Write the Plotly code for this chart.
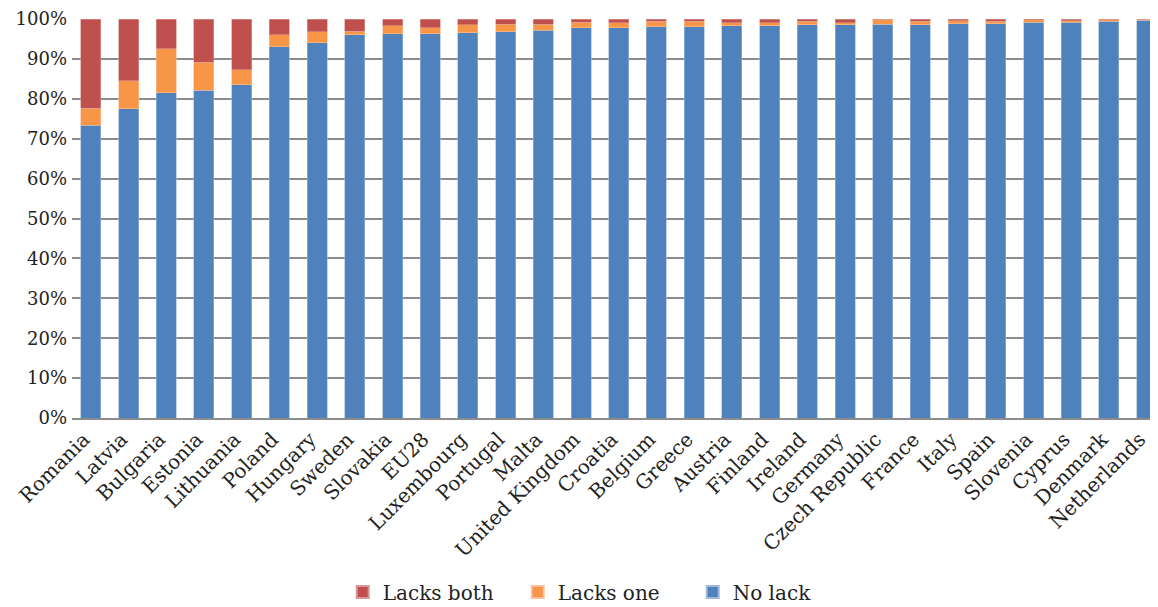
import plotly.graph_objects as go

countries = ["Romania", "Latvia", "Bulgaria", "Estonia", "Lithuania", "Poland", "Hungary",
             "Sweden", "Slovakia", "EU28", "Luxembourg", "Portugal", "Malta", "United Kingdom",
             "Croatia", "Belgium", "Greece", "Austria", "Finland", "Ireland", "Germany",
             "Czech Republic", "France", "Italy", "Spain", "Slovenia", "Cyprus", "Denmark",
             "Netherlands"]

no_lack = [73.4, 77.5, 81.5, 82.2, 83.5, 93.1, 94.1, 96.1, 96.3, 96.3, 96.6, 96.8, 97.2, 97.8,
           97.8, 98.1, 98.1, 98.3, 98.3, 98.5, 98.6, 98.7, 98.6, 98.8, 98.8, 99.2, 99.2, 99.5, 99.7]
lacks_one = [4.2, 7.0, 11.1, 7.0, 3.8, 2.9, 2.7, 0.8, 2.0, 1.5, 1.9, 1.9, 1.5, 1.4,
             1.2, 1.4, 1.4, 0.7, 0.7, 1.0, 0.5, 1.3, 0.9, 0.8, 0.7, 0.6, 0.4, 0.5, 0.3]
lacks_both = [round(100 - a - b, 1) for a, b in zip(no_lack, lacks_one)]

tick_vals = list(range(0, 101, 10))
tick_text = [f"{v}%" for v in tick_vals]

font_family = "Palatino Linotype, Book Antiqua, Palatino, DejaVu Serif, serif"

fig = go.Figure()
fig.add_trace(go.Bar(x=countries, y=no_lack, name="No lack", marker_color="#4F81BD",
                     marker_line=dict(width=0.6, color="#9DB9DC")))
fig.add_trace(go.Bar(x=countries, y=lacks_one, name="Lacks one", marker_color="#F79646",
                     marker_line=dict(width=0.6, color="#FAC29A")))
fig.add_trace(go.Bar(x=countries, y=lacks_both, name="Lacks both", marker_color="#C0504D",
                     marker_line=dict(width=0.6, color="#D99795")))

fig.update_layout(
    barmode="stack",
    bargap=0.47,
    width=1150, height=607,
    margin=dict(l=64, r=0, t=11, b=197),
    plot_bgcolor="white", paper_bgcolor="white",
    font=dict(family=font_family, size=20, color="#222222"),
    showlegend=True,
    legend=dict(orientation="h", traceorder="reversed", x=0.491, xanchor="center",
                y=-0.436, yanchor="middle", font=dict(size=20), itemsizing="constant",
                entrywidth=130),
    xaxis=dict(range=[-0.5, 28.3], tickangle=-45, showgrid=False, showline=True,
               linecolor="#8c8c8c", linewidth=1.5, ticks="", tickfont=dict(size=20),
               automargin=False, ticklabelshift=-7),
    yaxis=dict(range=[0, 100], tickvals=tick_vals, ticktext=tick_text, showgrid=True,
               gridcolor="#8c8c8c", gridwidth=1.5, zeroline=False, ticks="",
               tickfont=dict(size=18), automargin=False, ticklabelstandoff=4),
)

fig.write_html("out.html")
